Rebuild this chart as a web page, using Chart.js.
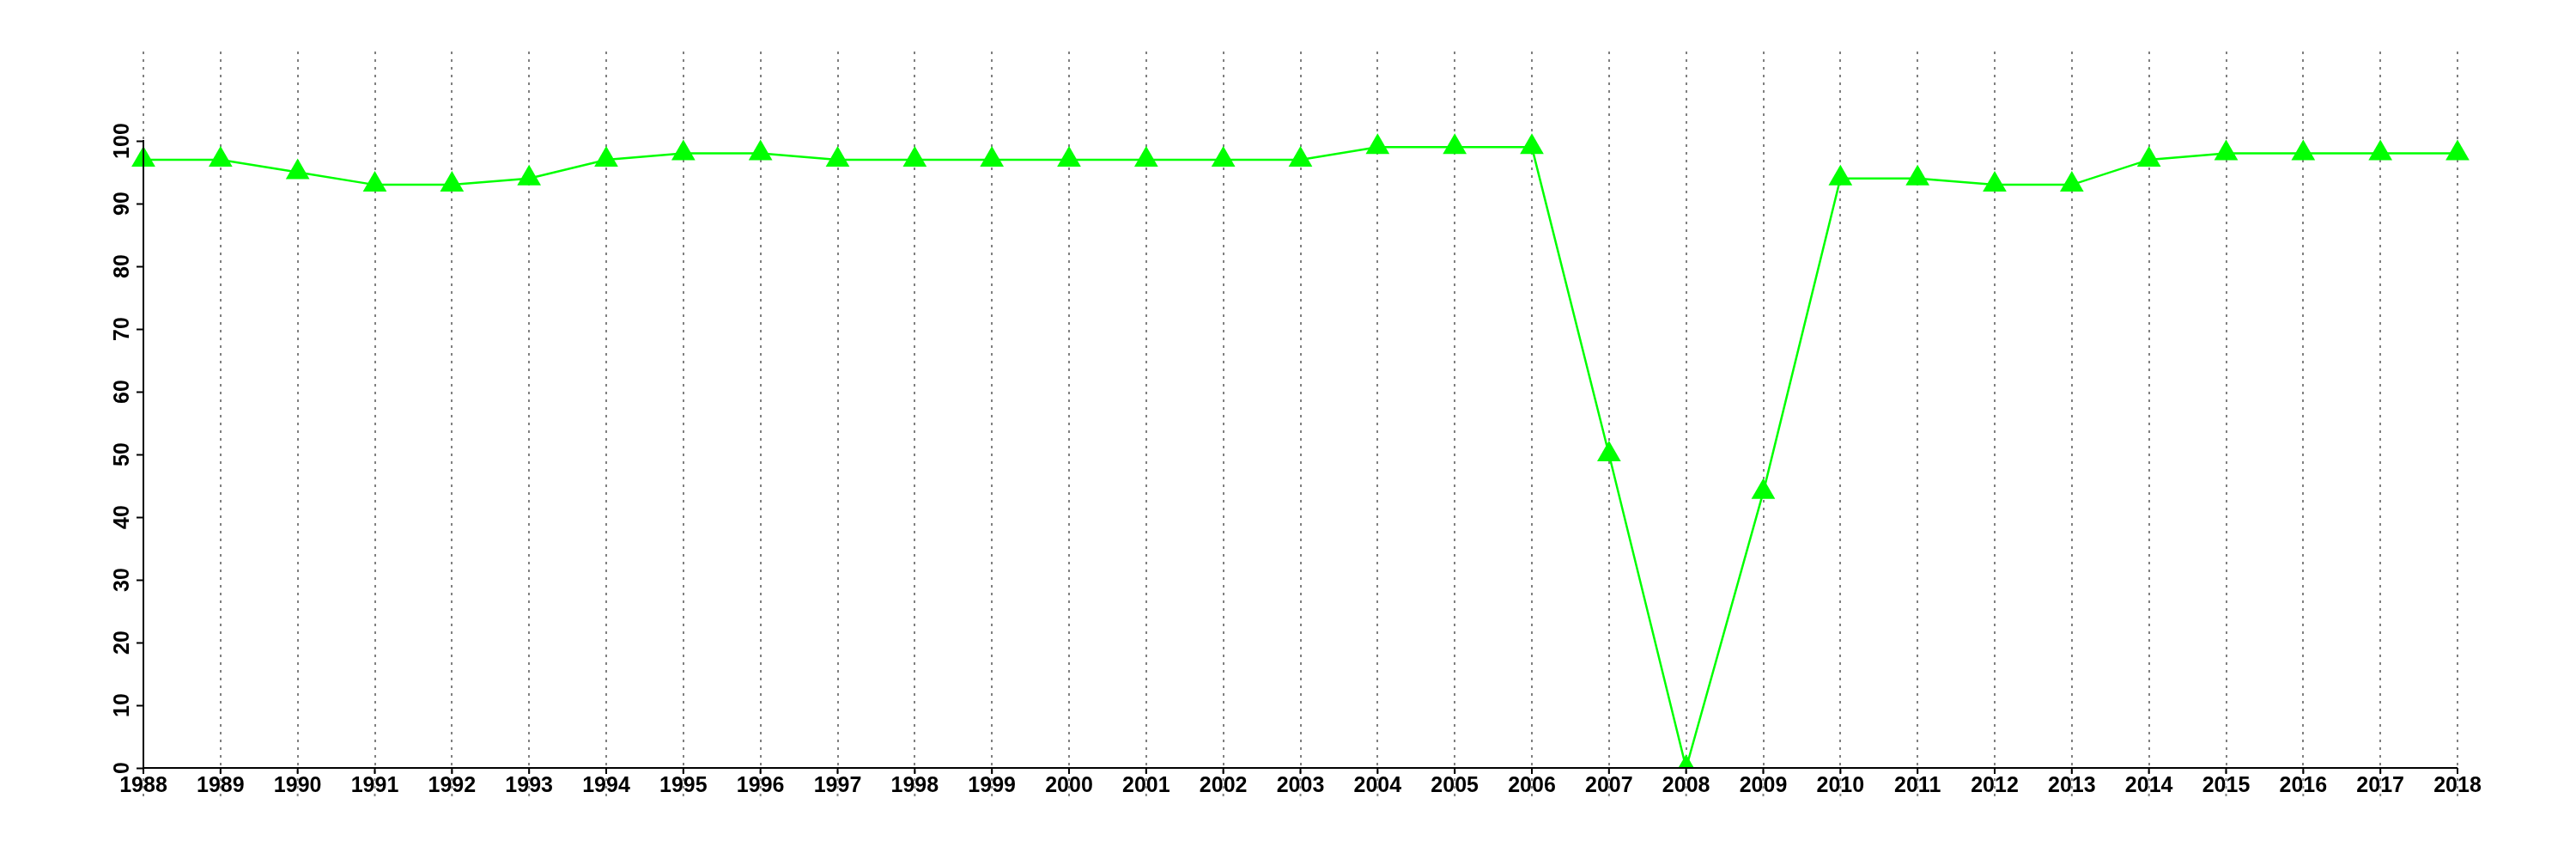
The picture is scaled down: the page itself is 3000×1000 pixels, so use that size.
<!DOCTYPE html>
<html>
<head>
<meta charset="utf-8">
<script src="https://cdn.jsdelivr.net/npm/chart.js@4/dist/chart.umd.min.js"></script>
<style>
  body { margin: 0; background: #fff; }
  canvas { display: block; }
</style>
</head>
<body>
<canvas id="chart" width="3000" height="1000"></canvas>
<script>
// year labels along the bottom
const years = ['1988', '1989', '1990', '1991', '1992', '1993', '1994', '1995', '1996', '1997',
  '1998', '1999', '2000', '2001', '2002', '2003', '2004', '2005', '2006', '2007',
  '2008', '2009', '2010', '2011', '2012', '2013', '2014', '2015', '2016', '2017', '2018'];

// values
const values = [97, 97, 95, 93, 93, 94, 97, 98, 98, 97,
  97, 97, 97, 97, 97, 97, 99, 99, 99, 50,
  0, 44, 94, 94, 93, 93, 97, 98, 98, 98, 98];

// y axis tick values (axis line only runs up to the last one)
const yTicks = [0, 10, 20, 30, 40, 50, 60, 70, 80, 90, 100];

const tickFont = { family: 'Liberation Sans', size: 25, weight: 'bold' };

// draws the y axis line (0..100), the x axis line, and the bits of the x grid below the axis
const axisExtras = {
  id: 'axisExtras',
  afterDraw(chart) {
    const { ctx, chartArea } = chart;
    const x = chart.scales.x;
    const y = chart.scales.y;
    ctx.save();
    ctx.strokeStyle = '#000';
    ctx.lineWidth = 2;
    ctx.setLineDash([]);
    ctx.beginPath();
    ctx.moveTo(chartArea.left, y.getPixelForValue(yTicks[0]));
    ctx.lineTo(chartArea.left, y.getPixelForValue(yTicks[yTicks.length - 1]) - 1);
    ctx.moveTo(chartArea.left, chartArea.bottom);
    ctx.lineTo(chartArea.right, chartArea.bottom);
    ctx.stroke();

    years.forEach((yr, i) => {
      const px = x.getPixelForTick(i);
      // dotted continuation below the axis
      ctx.strokeStyle = '#808080';
      ctx.setLineDash([3, 6]);
      ctx.beginPath();
      ctx.moveTo(px, chartArea.bottom + 3);
      ctx.lineTo(px, chartArea.bottom + 33);
      ctx.stroke();
      // short solid tick
      ctx.setLineDash([]);
      ctx.strokeStyle = '#000';
      ctx.beginPath();
      ctx.moveTo(px, chartArea.bottom);
      ctx.lineTo(px, chartArea.bottom + 7);
      ctx.stroke();
    });
    ctx.restore();
  }
};

new Chart(document.getElementById('chart').getContext('2d'), {
  type: 'line',
  data: {
    labels: years,
    datasets: [{
      data: values,
      borderColor: '#00ff00',
      backgroundColor: '#00ff00',
      borderWidth: 2.5,
      pointStyle: 'triangle',
      pointRadius: 16,
      pointHoverRadius: 16,
      pointBorderWidth: 0,
      tension: 0,
      fill: false
    }]
  },
  options: {
    responsive: false,
    devicePixelRatio: 1,
    animation: false,
    events: [],
    layout: { padding: { left: 0, top: 60, right: 138, bottom: 0 } },
    plugins: {
      legend: { display: false },
      tooltip: { enabled: false }
    },
    scales: {
      x: {
        z: 1,
        offset: false,
        afterFit: s => { s.height = 106; },
        border: { display: false, dash: [3, 6] },
        grid: {
          color: '#808080',
          lineWidth: 2,
          drawTicks: false
        },
        ticks: {
          color: '#000',
          font: tickFont,
          autoSkip: false,
          maxRotation: 0,
          padding: 6
        }
      },
      y: {
        min: 0,
        max: 114.25,
        afterFit: s => { s.width = 167; },
        afterBuildTicks: s => { s.ticks = yTicks.map(v => ({ value: v })); },
        border: { display: false },
        grid: {
          drawOnChartArea: false,
          drawTicks: true,
          tickLength: 8,
          tickColor: '#000',
          tickWidth: 2
        },
        ticks: {
          color: '#000',
          font: tickFont,
          minRotation: 90,
          maxRotation: 90,
          crossAlign: 'center',
          padding: -5
        }
      }
    }
  },
  plugins: [axisExtras]
});
</script>
</body>
</html>
